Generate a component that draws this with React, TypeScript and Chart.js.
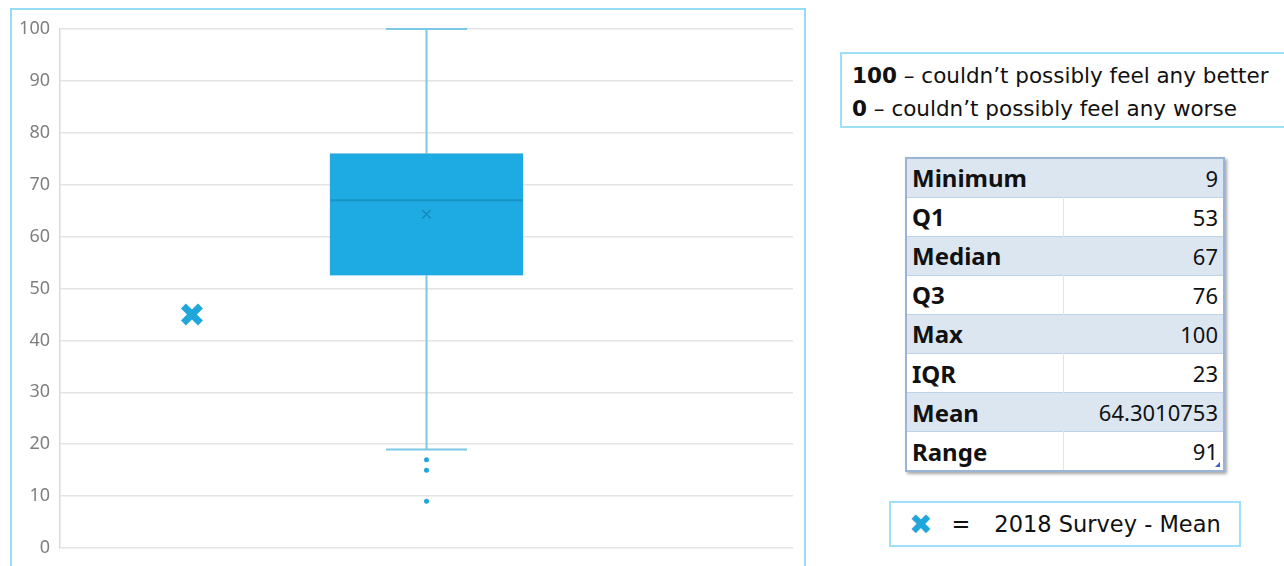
import React, { useEffect, useRef } from "react";
import { Chart, registerables } from "chart.js";

Chart.register(...registerables);

// ---- data ----
const boxX = 0.5;
const mean2018X = 0.18;
const whiskerLow = 19;
const q1 = 52.5;
const median = 67;
const q3 = 76;
const whiskerHigh = 100;
const mean = 64.3010753;
const outliers = [17, 15, 9];
const mean2018 = 45;
const yMin = 0;
const yMax = 100;
const yStep = 10;

const statLabels = ["Minimum", "Q1", "Median", "Q3", "Max", "IQR", "Mean", "Range"];
const statValues = ["9", "53", "67", "76", "100", "23", "64.3010753", "91"];

const noteLine1Bold = "100";
const noteLine1 = " \u2013 couldn\u2019t possibly feel any better";
const noteLine2Bold = "0";
const noteLine2 = " \u2013 couldn\u2019t possibly feel any worse";
const legendText = "2018 Survey - Mean";

const BOX_COLOR = "#1eaae2";
const WHISKER_COLOR = "#7cc7e3";
const MEDIAN_COLOR = "#1893c4";
const MARK_COLOR = "#1fa6da";

function BoxChart() {
  const ref = useRef<HTMLCanvasElement | null>(null);
  useEffect(() => {
    if (!ref.current) return;
    const chart = new Chart(ref.current, {
      type: "bar",
      data: {
        datasets: [
          {
            type: "bar",
            data: [{ x: boxX, y: [q1, q3] }] as any,
            backgroundColor: BOX_COLOR,
            borderColor: "#2aa5d6",
            borderWidth: 1,
            barThickness: 193,
            order: 3,
          } as any,
          {
            type: "line",
            data: [
              { x: boxX, y: q3 },
              { x: boxX, y: whiskerHigh },
            ],
            borderColor: WHISKER_COLOR,
            borderWidth: 2,
            pointRadius: 0,
            order: 4,
          } as any,
          {
            type: "line",
            data: [
              { x: boxX, y: q1 },
              { x: boxX, y: whiskerLow },
            ],
            borderColor: WHISKER_COLOR,
            borderWidth: 2,
            pointRadius: 0,
            order: 4,
          } as any,
          {
            type: "scatter",
            data: [
              { x: boxX, y: whiskerHigh },
              { x: boxX, y: whiskerLow },
            ],
            pointStyle: "line",
            pointRadius: 40.5,
            borderColor: WHISKER_COLOR,
            borderWidth: 2,
            order: 4,
            clip: false,
          } as any,
          {
            type: "scatter",
            data: [{ x: boxX, y: median }],
            pointStyle: "line",
            pointRadius: 96,
            borderColor: MEDIAN_COLOR,
            borderWidth: 2,
            order: 1,
          } as any,
          {
            type: "scatter",
            data: [{ x: boxX, y: mean }],
            pointStyle: "crossRot",
            pointRadius: 6,
            borderColor: "#1787b5",
            borderWidth: 1.2,
            order: 1,
          } as any,
          {
            type: "scatter",
            data: outliers.map((v) => ({ x: boxX, y: v })),
            pointStyle: "circle",
            pointRadius: 2.5,
            backgroundColor: MARK_COLOR,
            borderColor: MARK_COLOR,
            borderWidth: 0,
            order: 0,
          } as any,
          {
            type: "scatter",
            data: [{ x: mean2018X, y: mean2018 }],
            pointStyle: "crossRot",
            pointRadius: 12,
            borderColor: MARK_COLOR,
            borderWidth: 7,
            order: 0,
          } as any,
        ],
      },
      options: {
        animation: false,
        responsive: true,
        maintainAspectRatio: false,
        layout: { autoPadding: false, padding: { top: 19, bottom: 18, right: 9, left: 0 } },
        plugins: {
          legend: { display: false },
          tooltip: { enabled: false },
          title: { display: false },
        },
        scales: {
          x: {
            type: "linear",
            min: 0,
            max: 1,
            offset: false,
            display: false,
          },
          y: {
            type: "linear",
            min: yMin,
            max: yMax,
            ticks: {
              stepSize: yStep,
              color: "#7f7f7f",
              font: { family: "'Noto Sans', sans-serif", size: 18 },
              padding: 0,
            },
            grid: {
              color: "#e4e4e4",
              lineWidth: 1.5,
              drawTicks: true,
              tickLength: 10,
              tickColor: "rgba(0,0,0,0)",
            },
            border: { color: "#d9d9d9", width: 1.5 },
            afterFit: (scale: any) => {
              scale.width = 48;
            },
          } as any,
        },
      } as any,
    });
    return () => chart.destroy();
  }, []);
  return (
    <div style={{ position: "relative", width: 790, height: 556 }}>
      <canvas ref={ref} />
    </div>
  );
}

export default function App() {
  const gothic = "'DejaVu Sans', sans-serif";
  const calibri = "'Noto Sans', sans-serif";
  return (
    <div style={{ position: "fixed", left: 0, top: 0, width: 1284, height: 566, overflow: "hidden", background: "#fff" }}>
      {/* chart frame */}
      <div
        style={{
          position: "absolute",
          left: 10,
          top: 8,
          width: 792,
          height: 600,
          border: "2px solid #97dbf6",
          boxSizing: "content-box",
        }}
      />
      <div style={{ position: "absolute", left: 12, top: 10 }}>
        <BoxChart />
      </div>

      {/* scale note */}
      <div
        style={{
          position: "absolute",
          left: 840,
          top: 52,
          width: 460,
          height: 76,
          border: "2px solid #9fdff7",
          fontFamily: gothic,
          fontSize: 21.5,
          color: "#111",
          lineHeight: "33px",
          paddingLeft: 10,
          paddingTop: 5,
          boxSizing: "border-box",
        }}
      >
        <div style={{ whiteSpace: "nowrap" }}>
          <b>{noteLine1Bold}</b>
          {noteLine1}
        </div>
        <div style={{ whiteSpace: "nowrap" }}>
          <b>{noteLine2Bold}</b>
          {noteLine2}
        </div>
      </div>

      {/* stats table */}
      <div
        style={{
          position: "absolute",
          left: 905,
          top: 157,
          width: 320,
          height: 315,
          border: "2px solid #9bb4d6",
          boxShadow: "2px 2px 3px rgba(0,0,0,0.35)",
          boxSizing: "border-box",
          background: "#fff",
        }}
      >
        <table
          style={{
            borderCollapse: "collapse",
            width: "100%",
            height: "100%",
            fontFamily: calibri,
            color: "#111",
          }}
        >
          <tbody>
            {statLabels.map((lab, i) => {
              const shaded = i % 2 === 0;
              return (
                <tr
                  key={lab}
                  style={{
                    background: shaded ? "#dce6f1" : "#fff",
                    borderTop: i === 0 ? "none" : "1px solid #bfd1e8",
                  }}
                >
                  <td
                    style={{
                      width: 151,
                      padding: "0 0 0 5px",
                      fontWeight: 700,
                      fontSize: 24,
                      borderRight: shaded ? "none" : "1px solid #dce6f1",
                    }}
                  >
                    {lab}
                  </td>
                  <td style={{ padding: "0 5px 0 0", textAlign: "right", fontSize: 22 }}>{statValues[i]}</td>
                </tr>
              );
            })}
          </tbody>
        </table>
        <div
          style={{
            position: "absolute",
            right: 3,
            bottom: 3,
            width: 0,
            height: 0,
            borderLeft: "5px solid transparent",
            borderBottom: "5px solid #3b5fc4",
          }}
        />
      </div>

      {/* legend */}
      <div
        style={{
          position: "absolute",
          left: 889,
          top: 501,
          width: 352,
          height: 46,
          border: "2px solid #9fdff7",
          boxSizing: "border-box",
          fontFamily: gothic,
          fontSize: 22.5,
          color: "#111",
          display: "flex",
          alignItems: "center",
          whiteSpace: "nowrap",
        }}
      >
        <span style={{ color: MARK_COLOR, fontSize: 28, marginLeft: 18, fontFamily: "'DejaVu Sans', sans-serif" }}>{"\u2716"}</span>
        <span style={{ marginLeft: 19 }}>=</span>
        <span style={{ marginLeft: 24 }}>{legendText}</span>
      </div>
    </div>
  );
}
